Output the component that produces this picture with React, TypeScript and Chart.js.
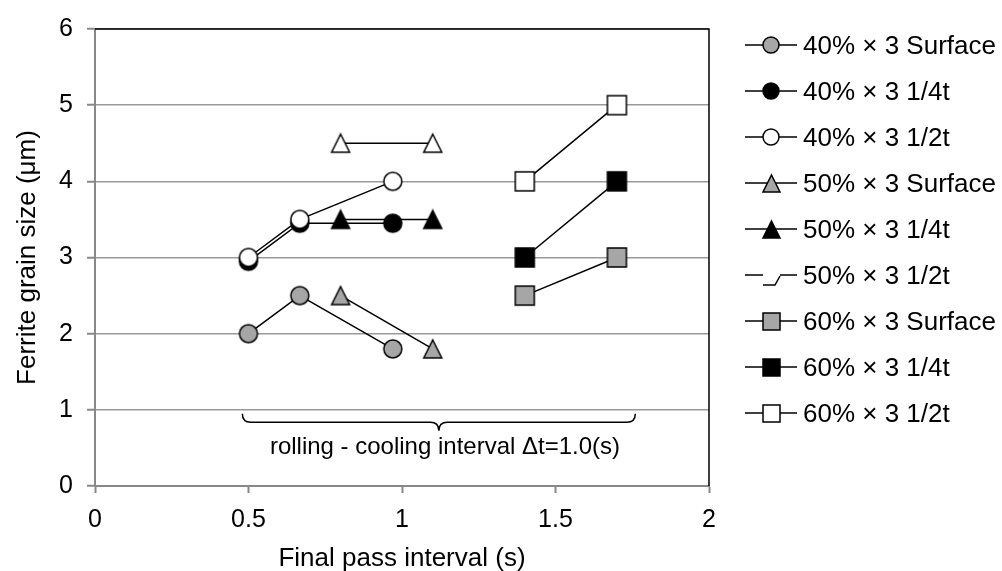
import React, { useEffect, useRef } from "react";
import { Chart, registerables } from "chart.js";

Chart.register(...registerables);

// ---- data ----
const X_40 = [0.5, 0.667, 0.97];
const X_50 = [0.8, 1.1];
const X_60 = [1.4, 1.7];

const Y_40_SURFACE = [2.0, 2.5, 1.8];
const Y_40_QUARTER = [2.95, 3.45, 3.45];
const Y_40_HALF = [3.0, 3.5, 4.0];
const Y_50_SURFACE = [2.5, 1.8];
const Y_50_QUARTER = [3.5, 3.5];
const Y_50_HALF = [4.5, 4.5];
const Y_60_SURFACE = [2.5, 3.0];
const Y_60_QUARTER = [3.0, 4.0];
const Y_60_HALF = [4.0, 5.0];

const SERIES_LABELS = [
  "40% × 3 Surface",
  "40% × 3 1/4t",
  "40% × 3 1/2t",
  "50% × 3 Surface",
  "50% × 3 1/4t",
  "50% × 3 1/2t",
  "60% × 3 Surface",
  "60% × 3 1/4t",
  "60% × 3 1/2t",
];

const X_TICKS = [0, 0.5, 1, 1.5, 2];
const Y_TICKS = [0, 1, 2, 3, 4, 5, 6];

const X_TITLE = "Final pass interval (s)";
const Y_TITLE = "Ferrite grain size (μm)";
const ANNOT_TEXT = "rolling - cooling interval Δt=1.0(s)";
const BRACE_RANGE = [0.48, 1.76];
const BRACE_Y = 0.95;
const ANNOT_POS = [1.14, 0.425];

// ---- styles ----
const FONT = "'Liberation Sans', Arial, sans-serif";
const GRAY = "#a6a6a6";

function makeMarker(shape: string, fill: string, size: number) {
  const pad = 2;
  const s = Math.ceil(size + pad * 2);
  const c = document.createElement("canvas");
  c.width = s;
  c.height = s;
  const ctx = c.getContext("2d")!;
  ctx.fillStyle = fill;
  ctx.strokeStyle = "#000";
  ctx.lineWidth = 1.5;
  const m = s / 2;
  const h = size / 2;
  ctx.beginPath();
  if (shape === "circle") ctx.arc(m, m, h, 0, Math.PI * 2);
  else if (shape === "square") ctx.rect(m - h, m - h, size, size);
  else {
    ctx.moveTo(m, m - h);
    ctx.lineTo(m + h, m + h);
    ctx.lineTo(m - h, m + h);
    ctx.closePath();
  }
  ctx.fill();
  ctx.stroke();
  return c;
}

const SHAPES = ["circle", "circle", "circle", "triangle", "triangle", "triangle", "square", "square", "square"];
const FILLS = [GRAY, "#000", "#fff", GRAY, "#000", "#fff", GRAY, "#000", "#fff"];
const PLOT_SIZE: Record<string, number> = { circle: 18, triangle: 18, square: 19 };
const LEGEND_SIZE: Record<string, number> = { circle: 16, triangle: 17, square: 17 };

function pts(xs: number[], ys: number[]) {
  return xs.map((x, i) => ({ x, y: ys[i] }));
}

export default function App() {
  const ref = useRef<HTMLCanvasElement | null>(null);

  useEffect(() => {
    document.body.style.margin = "0";
    const canvas = ref.current!;
    const seriesData = [
      pts(X_40, Y_40_SURFACE),
      pts(X_40, Y_40_QUARTER),
      pts(X_40, Y_40_HALF),
      pts(X_50, Y_50_SURFACE),
      pts(X_50, Y_50_QUARTER),
      pts(X_50, Y_50_HALF),
      pts(X_60, Y_60_SURFACE),
      pts(X_60, Y_60_QUARTER),
      pts(X_60, Y_60_HALF),
    ];
    const plotMarkers = SHAPES.map((s, i) => makeMarker(s, FILLS[i], PLOT_SIZE[s]));
    const legendMarkers = SHAPES.map((s, i) => makeMarker(s, FILLS[i], LEGEND_SIZE[s]));

    const datasets = seriesData.map((d, i) => ({
      label: SERIES_LABELS[i],
      data: d,
      showLine: true,
      borderColor: "#000",
      borderWidth: 1.5,
      backgroundColor: FILLS[i],
      pointStyle: plotMarkers[i],
      pointRadius: 9,
      pointHoverRadius: 9,
      order: 20 - i,
    }));

    const framePlugin = {
      id: "frame",
      beforeDatasetsDraw(chart: any) {
        const { ctx, chartArea } = chart;
        ctx.save();
        ctx.strokeStyle = "#000";
        ctx.lineWidth = 1.5;
        ctx.beginPath();
        ctx.moveTo(chartArea.left, chartArea.top);
        ctx.lineTo(chartArea.right, chartArea.top);
        ctx.lineTo(chartArea.right, chartArea.bottom);
        ctx.stroke();
        ctx.restore();
      },
    };

    const annotPlugin = {
      id: "annot",
      afterDatasetsDraw(chart: any) {
        const { ctx } = chart;
        const xs = chart.scales.x;
        const ys = chart.scales.y;
        const x1 = xs.getPixelForValue(BRACE_RANGE[0]);
        const x2 = xs.getPixelForValue(BRACE_RANGE[1]);
        const xm = (x1 + x2) / 2;
        const yt = ys.getPixelForValue(BRACE_Y);
        const r = 8.5;
        ctx.save();
        ctx.strokeStyle = "#000";
        ctx.lineWidth = 1.5;
        ctx.beginPath();
        ctx.moveTo(x1, yt);
        ctx.quadraticCurveTo(x1, yt + r, x1 + r, yt + r);
        ctx.lineTo(xm - r, yt + r);
        ctx.quadraticCurveTo(xm, yt + r, xm, yt + 2 * r);
        ctx.quadraticCurveTo(xm, yt + r, xm + r, yt + r);
        ctx.lineTo(x2 - r, yt + r);
        ctx.quadraticCurveTo(x2, yt + r, x2, yt);
        ctx.stroke();
        ctx.fillStyle = "#000";
        ctx.font = `24px ${FONT}`;
        ctx.textAlign = "center";
        ctx.textBaseline = "alphabetic";
        ctx.fillText(ANNOT_TEXT, xs.getPixelForValue(ANNOT_POS[0]), ys.getPixelForValue(ANNOT_POS[1]));
        ctx.restore();
      },
    };

    const legendPlugin = {
      id: "customLegend",
      afterDraw(chart: any) {
        const { ctx } = chart;
        const x0 = 745;
        const x1 = 797;
        const xm = 771;
        ctx.save();
        chart.data.datasets.forEach((ds: any, i: number) => {
          const y = 45 + i * 46;
          ctx.strokeStyle = "#000";
          ctx.lineWidth = 1.5;
          ctx.beginPath();
          if (i === 5) {
            ctx.moveTo(x0, y);
            ctx.lineTo(xm - 8, y);
            ctx.moveTo(xm - 8, y + 10);
            ctx.lineTo(xm + 4, y + 10);
            ctx.lineTo(xm + 9, y + 1);
            ctx.moveTo(xm + 9, y);
            ctx.lineTo(x1, y);
            ctx.stroke();
          } else {
            ctx.moveTo(x0, y);
            ctx.lineTo(x1, y);
            ctx.stroke();
            const m = legendMarkers[i];
            ctx.drawImage(m, Math.round(xm - m.width / 2), Math.round(y - m.height / 2));
          }
          ctx.fillStyle = "#000";
          ctx.font = `26px ${FONT}`;
          ctx.textAlign = "left";
          ctx.textBaseline = "alphabetic";
          ctx.fillText(ds.label, 803, y + 9);
        });
        ctx.restore();
      },
    };

    const chart = new Chart(canvas, {
      type: "scatter",
      data: { datasets: datasets as any },
      options: {
        animation: false,
        responsive: false,
        devicePixelRatio: 1,
        layout: { padding: { top: 19, right: 293, left: 0, bottom: 0 } },
        plugins: { legend: { display: false }, tooltip: { enabled: false } },
        scales: {
          x: {
            type: "linear",
            min: 0,
            max: 2,
            afterBuildTicks: (s: any) => {
              s.ticks = X_TICKS.map((v) => ({ value: v }));
            },
            afterFit: (s: any) => {
              s.height = 85;
            },
            ticks: {
              color: "#000",
              font: { family: FONT, size: 25 },
              padding: 12,
              maxRotation: 0,
              callback: (v: any) => String(v),
            },
            grid: {
              drawOnChartArea: false,
              drawTicks: true,
              tickLength: 7,
              tickColor: "#888",
              tickWidth: 2,
            },
            border: { color: "#888", width: 2 },
            title: {
              display: true,
              text: X_TITLE,
              color: "#000",
              font: { family: FONT, size: 26 },
              padding: { top: 0, bottom: -3 },
            },
          },
          y: {
            min: 0,
            max: 6,
            afterBuildTicks: (s: any) => {
              s.ticks = Y_TICKS.map((v) => ({ value: v }));
            },
            afterFit: (s: any) => {
              s.width = 95;
            },
            ticks: {
              color: "#000",
              font: { family: FONT, size: 25 },
              padding: 14,
              callback: (v: any) => String(v),
            },
            grid: {
              color: "#999",
              lineWidth: 1.5,
              drawTicks: true,
              tickLength: 8,
              tickColor: "#888",
              tickWidth: 2,
            },
            border: { color: "#888", width: 2 },
            title: {
              display: true,
              text: Y_TITLE,
              color: "#000",
              font: { family: FONT, size: 26 },
              padding: { top: 12, bottom: 0 },
            },
          },
        },
      },
      plugins: [framePlugin, annotPlugin, legendPlugin],
    } as any);

    return () => chart.destroy();
  }, []);

  return (
    <div style={{ width: 1002, height: 571, background: "#fff" }}>
      <canvas ref={ref} width={1002} height={571} style={{ display: "block" }} />
    </div>
  );
}
